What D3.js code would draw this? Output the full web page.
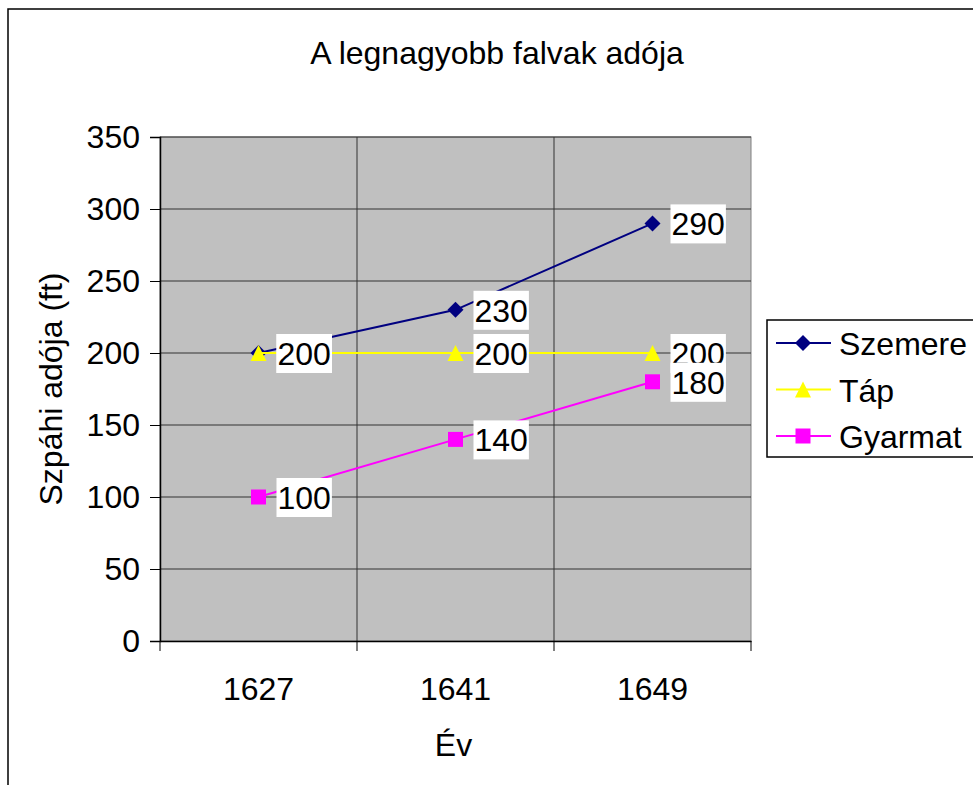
<!DOCTYPE html>
<html>
<head>
<meta charset="utf-8">
<script src="https://cdn.jsdelivr.net/npm/d3@7"></script>
<style>
  body { margin: 0; background: #fff; }
  text { font-family: "Liberation Sans", Arial, sans-serif; fill: #000; }
</style>
</head>
<body>
<div id="chart"></div>
<script>
const years = ["1627", "1641", "1649"];
const szemere = [200, 230, 290];
const tap = [200, 200, 200];
const gyarmat = [100, 140, 180];
const seriesNames = ["Szemere", "Táp", "Gyarmat"];
const seriesColors = ["#000080", "#FFFF00", "#FF00FF"];
const yTicks = [0, 50, 100, 150, 200, 250, 300, 350];

const width = 973, height = 785;
const plot = {left: 160, top: 137, right: 751, bottom: 641};
const fontSize = "32px";

const svg = d3.select("#chart").append("svg")
    .attr("width", width)
    .attr("height", height);

// outer chart frame (extends past the window on right/bottom)
svg.append("rect")
    .attr("x", 8).attr("y", 9)
    .attr("width", width + 20).attr("height", height + 20)
    .attr("fill", "#fff")
    .attr("stroke", "#000")
    .attr("stroke-width", 1.5);

const x = d3.scaleBand()
    .domain(years)
    .range([plot.left, plot.right]);

const y = d3.scaleLinear()
    .domain([0, 350])
    .range([plot.bottom, plot.top]);

// plot background
svg.append("rect")
    .attr("x", plot.left).attr("y", plot.top)
    .attr("width", plot.right - plot.left)
    .attr("height", plot.bottom - plot.top)
    .attr("fill", "#C0C0C0")
    .attr("stroke", "#808080")
    .attr("stroke-width", 1);

// horizontal grid
svg.append("g").selectAll("line")
    .data(yTicks.filter(d => d > 0))
    .enter().append("line")
    .attr("x1", plot.left).attr("x2", plot.right)
    .attr("y1", d => y(d)).attr("y2", d => y(d))
    .attr("stroke", "#333")
    .attr("stroke-width", 1);

// vertical grid at category boundaries
svg.append("g").selectAll("line")
    .data(years.slice(1))
    .enter().append("line")
    .attr("x1", d => x(d)).attr("x2", d => x(d))
    .attr("y1", plot.top).attr("y2", plot.bottom)
    .attr("stroke", "#333")
    .attr("stroke-width", 1);

// y axis
const yAxis = d3.axisLeft(y)
    .tickValues(yTicks)
    .tickSize(10)
    .tickPadding(10);
const yg = svg.append("g")
    .attr("transform", `translate(${plot.left},0)`)
    .call(yAxis);
yg.select(".domain").attr("stroke", "#000").attr("stroke-width", 1.5);
yg.selectAll(".tick line").attr("stroke", "#000");
yg.selectAll(".tick text")
    .style("font-size", fontSize)
    .attr("font-family", "Liberation Sans, Arial, sans-serif");

// x axis
const xAxis = d3.axisBottom(x).tickSize(0).tickPadding(36);
const xg = svg.append("g")
    .attr("transform", `translate(0,${plot.bottom})`)
    .call(xAxis);
xg.select(".domain").attr("stroke", "#000").attr("stroke-width", 1.5);
xg.selectAll(".tick text")
    .style("font-size", fontSize)
    .attr("font-family", "Liberation Sans, Arial, sans-serif");
// category boundary ticks
xg.append("g").selectAll("line")
    .data(years.map(d => x(d)).concat([plot.right]))
    .enter().append("line")
    .attr("x1", d => d).attr("x2", d => d)
    .attr("y1", 0).attr("y2", 10)
    .attr("stroke", "#000");

// titles
svg.append("text")
    .attr("x", 497).attr("y", 64)
    .attr("text-anchor", "middle")
    .style("font-size", fontSize)
    .text("A legnagyobb falvak adója");

svg.append("text")
    .attr("x", (plot.left + plot.right) / 2 - 2).attr("y", 756)
    .attr("text-anchor", "middle")
    .style("font-size", fontSize)
    .text("Év");

svg.append("text")
    .attr("transform", `translate(62,${(plot.top + plot.bottom) / 2}) rotate(-90)`)
    .attr("text-anchor", "middle")
    .style("font-size", fontSize)
    .text("Szpáhi adója (ft)");

const series = [szemere, tap, gyarmat];
const cx = d => x(d) + x.bandwidth() / 2;

function marker(g, i, px, py) {
    const c = seriesColors[i];
    if (i === 0) {
        g.append("path")
            .attr("d", `M${px},${py - 8}L${px + 8},${py}L${px},${py + 8}L${px - 8},${py}Z`)
            .attr("fill", c);
    } else if (i === 1) {
        g.append("path")
            .attr("d", `M${px},${py - 8}L${px + 8},${py + 8}L${px - 8},${py + 8}Z`)
            .attr("fill", c);
    } else {
        g.append("rect")
            .attr("x", px - 7.5).attr("y", py - 7.5)
            .attr("width", 15).attr("height", 15)
            .attr("fill", c);
    }
}

const line = d3.line()
    .x((d, j) => cx(years[j]))
    .y(d => y(d));

series.forEach((vals, i) => {
    const g = svg.append("g");
    g.append("path")
        .datum(vals)
        .attr("d", line)
        .attr("fill", "none")
        .attr("stroke", seriesColors[i])
        .attr("stroke-width", 2);
    vals.forEach((v, j) => marker(g, i, cx(years[j]), y(v)));
});

// data labels, drawn in series order so later ones overlap earlier
series.forEach((vals, i) => {
    const g = svg.append("g");
    vals.forEach((v, j) => {
        const px = cx(years[j]) + 18, py = y(v);
        const bg = g.append("rect")
            .attr("fill", "#fff");
        const t = g.append("text")
            .attr("x", px + 1).attr("y", py + 12)
            .style("font-size", fontSize)
            .text(v);
        const w = t.node().getComputedTextLength();
        bg.attr("x", px).attr("y", py - 19)
            .attr("width", w + 2).attr("height", 39);
    });
});

// legend
const lg = svg.append("g");
lg.append("rect")
    .attr("x", 767).attr("y", 320)
    .attr("width", 220).attr("height", 137)
    .attr("fill", "#fff")
    .attr("stroke", "#000")
    .attr("stroke-width", 1.5);
seriesNames.forEach((name, i) => {
    const ly = 343 + i * 46.5;
    lg.append("line")
        .attr("x1", 776).attr("x2", 831)
        .attr("y1", ly).attr("y2", ly)
        .attr("stroke", seriesColors[i])
        .attr("stroke-width", 2);
    marker(lg, i, 803, ly);
    lg.append("text")
        .attr("x", 839).attr("y", ly + 12)
        .style("font-size", fontSize)
        .text(name);
});
</script>
</body>
</html>
